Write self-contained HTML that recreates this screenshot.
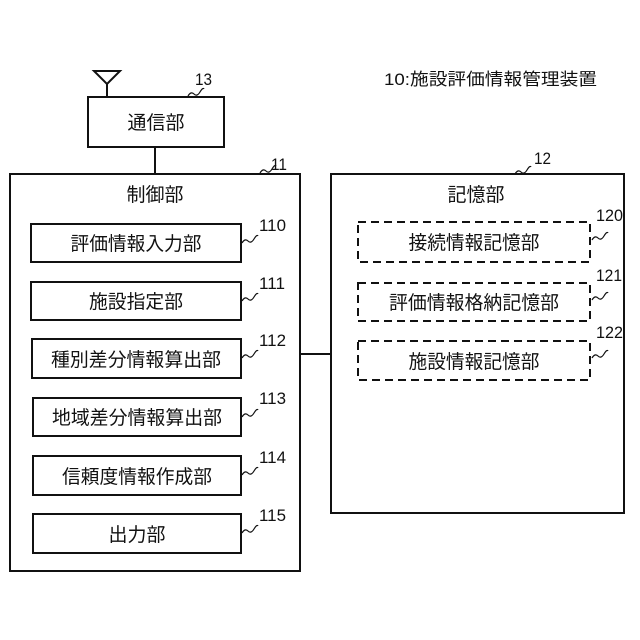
<!DOCTYPE html>
<html><head><meta charset="utf-8"><style>
html,body{margin:0;padding:0;background:#fff}
svg{display:block}
text{font-family:"Liberation Sans","Noto Sans CJK JP",sans-serif;fill:#111}
</style></head><body>
<svg width="640" height="640" viewBox="0 0 640 640" xmlns="http://www.w3.org/2000/svg">
<g fill="none" stroke="#111" stroke-width="2">
<path d="M94 71 L120 71 L107 84 Z M107 84 L107 97"/>
<rect x="88" y="97" width="136" height="50"/>
<line x1="155" y1="147" x2="155" y2="174"/>
<rect x="10" y="174" width="290" height="397"/>
<rect x="331" y="174" width="293" height="339"/>
<line x1="300" y1="354" x2="331" y2="354"/>
<rect x="31" y="224" width="210" height="38"/>
<rect x="31" y="282" width="210" height="38"/>
<rect x="32" y="339" width="209" height="39"/>
<rect x="33" y="398" width="208" height="38"/>
<rect x="33" y="456" width="208" height="39"/>
<rect x="33" y="514" width="208" height="39"/>
<g stroke-dasharray="8,5">
<rect x="358" y="222" width="232" height="40"/>
<rect x="358" y="283" width="232" height="38"/>
<rect x="358" y="341" width="232" height="39"/>
</g>
<g stroke-width="1.2">
<path d="M188 96 q3 -5 6 -2 t6 -2 t4 -3"/>
<path d="M260 173 q3 -5 6 -2 t6 -2 t4 -3"/>
<path d="M515 174 q3 -5 6 -2 t6 -2 t4 -3"/>
<path d="M242 243 q3 -5 6 -2 t6 -2 t4 -3"/>
<path d="M242 301 q3 -5 6 -2 t6 -2 t4 -3"/>
<path d="M242 358 q3 -5 6 -2 t6 -2 t4 -3"/>
<path d="M242 417 q3 -5 6 -2 t6 -2 t4 -3"/>
<path d="M242 475 q3 -5 6 -2 t6 -2 t4 -3"/>
<path d="M242 533 q3 -5 6 -2 t6 -2 t4 -3"/>
<path d="M592 240 q3 -5 6 -2 t6 -2 t4 -3"/>
<path d="M592 300 q3 -5 6 -2 t6 -2 t4 -3"/>
<path d="M592 358 q3 -5 6 -2 t6 -2 t4 -3"/>
</g>
</g>
<g font-size="17">
<text x="384" y="85" textLength="213" lengthAdjust="spacingAndGlyphs">10:施設評価情報管理装置</text>
<text x="195" y="85" textLength="17" lengthAdjust="spacingAndGlyphs">13</text>
<text x="271" y="170" textLength="16" lengthAdjust="spacingAndGlyphs">11</text>
<text x="534" y="164" textLength="17" lengthAdjust="spacingAndGlyphs">12</text>
<text x="259" y="231" textLength="27" lengthAdjust="spacingAndGlyphs">110</text>
<text x="259" y="289" textLength="26" lengthAdjust="spacingAndGlyphs">111</text>
<text x="259" y="346" textLength="27" lengthAdjust="spacingAndGlyphs">112</text>
<text x="259" y="404" textLength="27" lengthAdjust="spacingAndGlyphs">113</text>
<text x="259" y="463" textLength="27" lengthAdjust="spacingAndGlyphs">114</text>
<text x="259" y="521" textLength="27" lengthAdjust="spacingAndGlyphs">115</text>
<text x="596" y="221" textLength="27" lengthAdjust="spacingAndGlyphs">120</text>
<text x="596" y="281" textLength="26" lengthAdjust="spacingAndGlyphs">121</text>
<text x="596" y="338" textLength="27" lengthAdjust="spacingAndGlyphs">122</text>
</g>
<g font-size="19" text-anchor="middle">
<text x="156" y="129">通信部</text>
<text x="155" y="201">制御部</text>
<text x="476" y="201">記憶部</text>
<text x="136" y="250" textLength="131" lengthAdjust="spacingAndGlyphs">評価情報入力部</text>
<text x="136" y="308" textLength="94" lengthAdjust="spacingAndGlyphs">施設指定部</text>
<text x="136" y="366" textLength="170" lengthAdjust="spacingAndGlyphs">種別差分情報算出部</text>
<text x="137" y="424" textLength="170" lengthAdjust="spacingAndGlyphs">地域差分情報算出部</text>
<text x="137" y="483" textLength="150" lengthAdjust="spacingAndGlyphs">信頼度情報作成部</text>
<text x="137" y="541">出力部</text>
<text x="474" y="249" textLength="131" lengthAdjust="spacingAndGlyphs">接続情報記憶部</text>
<text x="474" y="309" textLength="170" lengthAdjust="spacingAndGlyphs">評価情報格納記憶部</text>
<text x="474" y="368" textLength="131" lengthAdjust="spacingAndGlyphs">施設情報記憶部</text>
</g>
</svg>
</body></html>
